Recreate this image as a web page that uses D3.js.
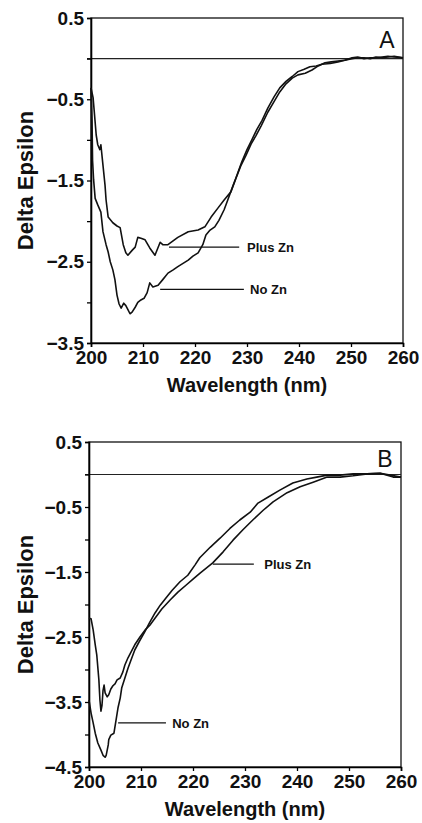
<!DOCTYPE html>
<html>
<head>
<meta charset="utf-8">
<script src="https://cdn.jsdelivr.net/npm/d3@7"></script>
<style>
  body { margin: 0; background: #fff; }
  svg { display: block; }
  text { font-family: "Liberation Sans", Arial, Helvetica, sans-serif; fill: #111; }
</style>
</head>
<body>
<div id="chart"></div>
<script>
// --------------- Data --------------- //

// Panel A: [wavelength nm, delta epsilon]
const aPlusZn = [
  [200.0,-0.36],[200.4,-0.48],[200.6,-0.63],[201.0,-0.94],[201.3,-1.06],[201.7,-1.12],
  [201.9,-1.06],[202.3,-1.31],[202.7,-1.56],[202.9,-1.74],[203.3,-1.95],[204.2,-2.02],
  [205.0,-2.06],[205.6,-2.08],[206.2,-2.29],[206.7,-2.39],[207.1,-2.42],[207.9,-2.36],
  [208.5,-2.32],[209.0,-2.20],[209.6,-2.21],[210.4,-2.23],[211.3,-2.33],[212.3,-2.42],
  [213.3,-2.26],[213.8,-2.29],[214.8,-2.29],[216.7,-2.20],[218.7,-2.13],[220.6,-2.11],
  [221.9,-2.07],[223.1,-1.95],[224.4,-1.84],[225.6,-1.74],[226.9,-1.64],[227.9,-1.47],
  [228.8,-1.32],[229.8,-1.19],[230.8,-1.05],[231.7,-0.95],[232.7,-0.83],[234.0,-0.66],
  [235.2,-0.53],[236.3,-0.41],[237.5,-0.31],[238.7,-0.24],[239.8,-0.20],[241.2,-0.18],
  [242.5,-0.14],[243.7,-0.09],[245.0,-0.05],[246.2,-0.04],[247.5,-0.03],[248.8,-0.02],
  [250.2,0.01],[251.3,0.02],[252.5,0.00],[253.7,0.01],[254.8,0.01],[256.0,0.02],
  [257.1,0.03],[258.3,0.02],[260.0,0.01]
];
const aNoZn = [
  [200.0,-0.36],[200.2,-0.76],[200.3,-1.25],[200.5,-1.49],[200.8,-1.72],[201.3,-1.80],
  [201.9,-1.89],[202.3,-2.13],[202.9,-2.29],[203.3,-2.38],[203.7,-2.50],[204.2,-2.60],
  [204.6,-2.72],[205.0,-2.91],[205.4,-3.02],[205.8,-3.07],[206.3,-3.01],[206.7,-3.04],
  [207.1,-3.09],[207.5,-3.14],[207.9,-3.12],[208.5,-3.06],[209.0,-3.00],[209.6,-2.97],
  [210.2,-2.95],[210.8,-2.88],[211.3,-2.76],[211.9,-2.81],[212.9,-2.79],[213.8,-2.72],
  [214.8,-2.64],[215.8,-2.60],[216.7,-2.56],[217.7,-2.52],[218.7,-2.48],[219.6,-2.43],
  [220.6,-2.39],[221.5,-2.29],[222.1,-2.17],[222.9,-2.11],[223.8,-2.07],[224.6,-1.99],
  [225.6,-1.86],[226.3,-1.74],[227.1,-1.60],[228.1,-1.43],[229.0,-1.27],[230.0,-1.12],
  [231.0,-0.99],[231.9,-0.87],[232.9,-0.76],[234.0,-0.61],[235.2,-0.47],[236.3,-0.36],
  [237.5,-0.28],[238.7,-0.22],[239.8,-0.16],[241.0,-0.13],[242.1,-0.10],[243.3,-0.09],
  [244.4,-0.07],[246.0,-0.06],[247.5,-0.04],[248.8,-0.02],[250.2,0.00],[251.3,0.01],
  [252.5,0.01],[253.7,0.00],[254.8,0.02],[256.0,0.01],[257.1,0.02],[258.3,0.03],[260.0,0.01]
];

// Panel B
const bPlusZn = [
  [200.0,-2.21],[200.4,-2.22],[200.8,-2.39],[201.2,-2.62],[201.5,-2.78],[201.9,-3.16],
  [202.1,-3.47],[202.3,-3.64],[202.5,-3.55],[202.7,-3.32],[202.9,-3.24],[203.1,-3.36],
  [203.5,-3.42],[203.8,-3.39],[204.2,-3.30],[204.6,-3.25],[205.0,-3.22],[205.4,-3.16],
  [206.0,-3.13],[206.5,-3.04],[206.9,-2.93],[207.5,-2.82],[208.1,-2.73],[208.8,-2.62],
  [209.8,-2.50],[210.8,-2.39],[211.7,-2.32],[212.9,-2.19],[214.0,-2.07],[215.6,-1.93],
  [217.1,-1.81],[218.7,-1.70],[220.0,-1.61],[221.3,-1.52],[223.8,-1.36],[225.8,-1.19],
  [227.7,-1.01],[229.6,-0.85],[231.5,-0.70],[233.5,-0.55],[235.4,-0.42],[238.1,-0.28],
  [240.6,-0.19],[243.1,-0.12],[245.8,-0.04],[248.3,-0.04],[250.8,-0.02],[253.5,0.01],
  [256.0,0.02],[258.5,-0.04],[260.0,-0.04]
];
const bNoZn = [
  [200.0,-3.47],[200.4,-3.67],[200.8,-3.82],[201.2,-3.98],[201.7,-4.13],[202.3,-4.24],
  [202.7,-4.32],[203.1,-4.35],[203.3,-4.32],[203.7,-4.16],[203.8,-4.08],[204.2,-4.01],
  [204.8,-3.98],[205.2,-3.78],[205.6,-3.58],[206.0,-3.44],[206.3,-3.28],[206.9,-3.13],
  [207.5,-2.98],[208.1,-2.85],[208.8,-2.70],[209.8,-2.55],[210.8,-2.41],[211.7,-2.27],
  [212.7,-2.13],[213.7,-2.01],[214.8,-1.90],[216.0,-1.78],[217.5,-1.65],[219.0,-1.55],
  [220.4,-1.39],[221.3,-1.28],[223.3,-1.12],[225.2,-0.98],[227.1,-0.83],[229.0,-0.70],
  [231.0,-0.58],[232.5,-0.44],[234.4,-0.35],[236.7,-0.24],[239.2,-0.13],[241.9,-0.07],
  [243.8,-0.04],[245.8,-0.01],[248.3,-0.01],[250.8,0.01],[253.5,0.01],[256.0,0.02],
  [257.9,-0.01],[260.0,-0.04]
];

const xTicks = [200, 210, 220, 230, 240, 250, 260];
const aYTicks = [0.5, 0, -0.5, -1, -1.5, -2, -2.5, -3, -3.5];
const bYTicks = [0.5, 0, -0.5, -1, -1.5, -2, -2.5, -3, -3.5, -4, -4.5];

// label: text, leader line from x1..x2 at y (data units), text at tx
const aLabels = [
  {text: "Plus Zn", x1: 215.0, x2: 228.5, y: -2.32, tx: 230.0},
  {text: "No Zn",   x1: 213.3, x2: 229.4, y: -2.84, tx: 230.6}
];
const bLabels = [
  {text: "Plus Zn", x1: 223.8, x2: 231.7, y: -1.38, tx: 233.7},
  {text: "No Zn",   x1: 205.6, x2: 214.8, y: -3.82, tx: 216.0}
];


// --------------- Basic Setup --------------- //

const width = 422,
    height = 823;

const svg = d3.select("#chart")
    .append("svg")
    .attr("width", width)
    .attr("height", height);

const panels = [
  {letter: "A", series: [aPlusZn, aNoZn], labels: aLabels, yTicks: aYTicks,
   yDomain: [-3.5, 0.5], left: 91, right: 403, top: 18, bottom: 343},
  {letter: "B", series: [bPlusZn, bNoZn], labels: bLabels, yTicks: bYTicks,
   yDomain: [-4.5, 0.5], left: 89, right: 401, top: 442, bottom: 767}
];

const tickFont = "'Liberation Sans', Arial, sans-serif";


// --------------- Build the Chart --------------- //

panels.forEach(p => {
  const x = d3.scaleLinear().domain([200, 260]).range([p.left, p.right]);
  const y = d3.scaleLinear().domain(p.yDomain).range([p.bottom, p.top]);
  const g = svg.append("g");

  // frame
  g.append("rect")
    .attr("x", p.left).attr("y", p.top)
    .attr("width", p.right - p.left).attr("height", p.bottom - p.top)
    .attr("fill", "none").attr("stroke", "#111").attr("stroke-width", 1.3);

  // zero line
  g.append("line")
    .attr("x1", p.left - 4).attr("x2", p.right)
    .attr("y1", y(0)).attr("y2", y(0))
    .attr("stroke", "#222").attr("stroke-width", 1.2);

  // y axis, labels only on the half values
  const yAxis = d3.axisLeft(y)
    .tickValues(p.yTicks)
    .tickSize(4)
    .tickPadding(3)
    .tickFormat(d => Math.abs(d % 1) === 0.5 ? d3.format(".1f")(d) : "");
  g.append("g")
    .attr("transform", `translate(${p.left},0)`)
    .call(yAxis)
    .call(a => a.select(".domain").attr("stroke-width", 1.6))
    .call(a => a.selectAll("line").attr("stroke-width", 1.3))
    .call(a => a.selectAll("text")
      .attr("font-size", 19).attr("font-weight", "bold").attr("fill", "#111")
      .style("font-family", tickFont));

  // x axis
  const xAxis = d3.axisBottom(x)
    .tickValues(xTicks)
    .tickSize(4)
    .tickPadding(4)
    .tickFormat(d3.format("d"));
  g.append("g")
    .attr("transform", `translate(0,${p.bottom})`)
    .call(xAxis)
    .call(a => a.select(".domain").attr("stroke-width", 1.6))
    .call(a => a.selectAll("line").attr("stroke-width", 1.3))
    .call(a => a.selectAll("text")
      .attr("font-size", 19).attr("font-weight", "bold").attr("fill", "#111")
      .style("font-family", tickFont));

  // axis titles
  g.append("text")
    .attr("x", (p.left + p.right) / 2)
    .attr("y", p.bottom + 49)
    .attr("text-anchor", "middle")
    .attr("font-size", 20).attr("font-weight", "bold")
    .text("Wavelength (nm)");

  g.append("text")
    .attr("transform", `translate(33,${(p.top + p.bottom) / 2}) rotate(-90)`)
    .attr("text-anchor", "middle")
    .attr("font-size", 22).attr("font-weight", "bold")
    .text("Delta Epsilon");

  // curves
  const line = d3.line()
    .x(d => x(d[0]))
    .y(d => y(d[1]));

  g.selectAll("path.curve")
    .data(p.series)
    .join("path")
    .attr("class", "curve")
    .attr("d", line)
    .attr("fill", "none")
    .attr("stroke", "#111")
    .attr("stroke-width", 1.6)
    .attr("stroke-linejoin", "round");

  // leader lines + labels
  g.selectAll("line.leader")
    .data(p.labels)
    .join("line")
    .attr("class", "leader")
    .attr("x1", d => x(d.x1)).attr("x2", d => x(d.x2))
    .attr("y1", d => y(d.y)).attr("y2", d => y(d.y))
    .attr("stroke", "#111").attr("stroke-width", 1.3);

  g.selectAll("text.lab")
    .data(p.labels)
    .join("text")
    .attr("class", "lab")
    .attr("x", d => x(d.tx))
    .attr("y", d => y(d.y))
    .attr("dy", "0.38em")
    .attr("font-size", 13).attr("font-weight", "bold")
    .text(d => d.text);

  // panel letter
  g.append("text")
    .attr("x", x(256.9))
    .attr("y", y(p.letter === "A" ? 0.13 : 0.12))
    .attr("text-anchor", "middle")
    .attr("font-size", 23)
    .text(p.letter);
});
</script>
</body>
</html>
